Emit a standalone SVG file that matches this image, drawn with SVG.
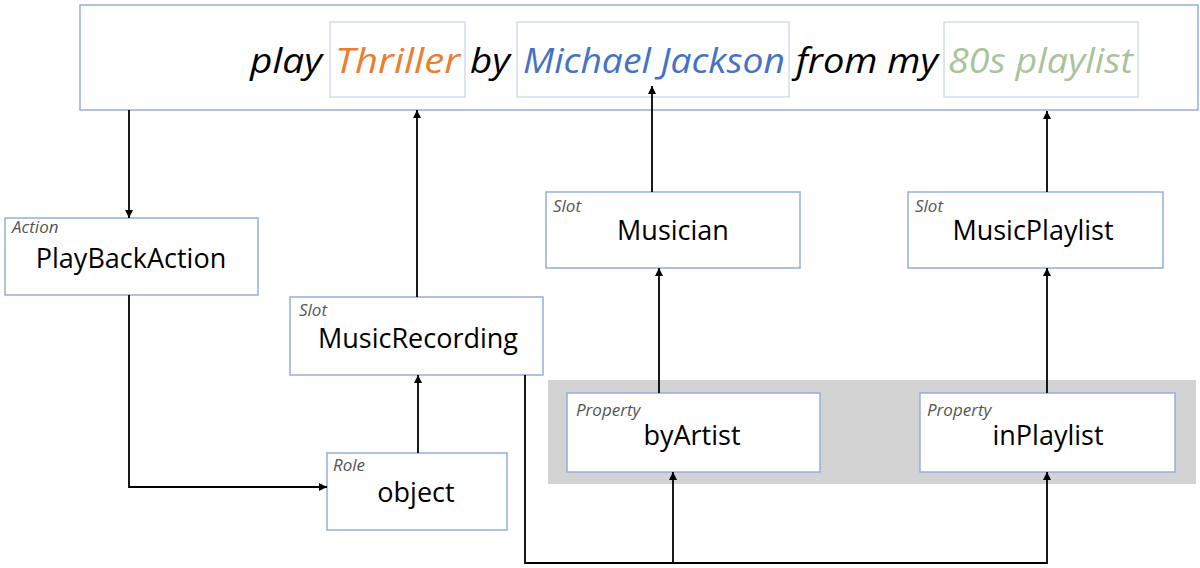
<svg xmlns="http://www.w3.org/2000/svg" width="1200" height="568" viewBox="0 0 1200 568">
<style>
.box{fill:#fff;stroke:#95aedc;stroke-width:1.5}
.inner{fill:none;stroke:#c5d3ee;stroke-width:1.2}
.lbl{font-family:"Open Sans","DejaVu Sans",sans-serif;font-style:italic;font-size:17px;fill:#555}
.main{font-family:"Open Sans","DejaVu Sans",sans-serif;font-size:27px;fill:#000;text-anchor:middle}
.utt{font-family:"Open Sans","DejaVu Sans",sans-serif;font-style:italic;font-size:35px}
.ln{fill:none;stroke:#000;stroke-width:1.8}
</style>
<defs>
<marker id="ah" viewBox="0 0 10 10" refX="10" refY="5" markerWidth="8" markerHeight="8" markerUnits="userSpaceOnUse" orient="auto">
<path d="M0,0 L10,5 L0,10 z" fill="#000"/>
</marker>
</defs>
<rect x="548" y="380" width="648" height="104" fill="#d3d3d3"/>
<g id="utterance">
<rect class="box" x="80" y="5" width="1118" height="105"/>
<rect class="inner" x="330" y="22" width="135" height="75"/>
<rect class="inner" x="517" y="22" width="272" height="75"/>
<rect class="inner" x="944" y="22" width="194" height="75"/>
<text class="utt" x="250" y="73" fill="#000" textLength="72" lengthAdjust="spacingAndGlyphs">play</text>
<text class="utt" x="335" y="73" fill="#ed7d31" textLength="125" lengthAdjust="spacingAndGlyphs">Thriller</text>
<text class="utt" x="470" y="73" fill="#000" textLength="40" lengthAdjust="spacingAndGlyphs">by</text>
<text class="utt" x="523" y="73" fill="#4472c4" textLength="262" lengthAdjust="spacingAndGlyphs">Michael Jackson</text>
<text class="utt" x="796" y="73" fill="#000" textLength="142" lengthAdjust="spacingAndGlyphs">from my</text>
<text class="utt" x="948" y="73" fill="#a9c49b" textLength="185" lengthAdjust="spacingAndGlyphs">80s playlist</text>
</g>
<g id="playbackaction">
<rect class="box" x="5" y="218" width="253" height="77"/>
<text class="lbl" x="12" y="233">Action</text>
<text class="main" x="131" y="268">PlayBackAction</text>
</g>
<g id="musicrecording">
<rect class="box" x="290" y="297" width="253" height="78"/>
<text class="lbl" x="299" y="316">Slot</text>
<text class="main" x="418" y="348">MusicRecording</text>
</g>
<g id="object">
<rect class="box" x="327" y="453" width="180" height="77"/>
<text class="lbl" x="333" y="471">Role</text>
<text class="main" x="416" y="502">object</text>
</g>
<g id="musician">
<rect class="box" x="546" y="192" width="254" height="76"/>
<text class="lbl" x="553" y="212">Slot</text>
<text class="main" x="673" y="240">Musician</text>
</g>
<g id="musicplaylist">
<rect class="box" x="908" y="192" width="255" height="76"/>
<text class="lbl" x="915" y="212">Slot</text>
<text class="main" x="1033" y="240">MusicPlaylist</text>
</g>
<g id="byartist">
<rect class="box" x="567" y="393" width="253" height="79"/>
<text class="lbl" x="576" y="416">Property</text>
<text class="main" x="692" y="445">byArtist</text>
</g>
<g id="inplaylist">
<rect class="box" x="920" y="393" width="255" height="79"/>
<text class="lbl" x="927" y="416">Property</text>
<text class="main" x="1048" y="445">inPlaylist</text>
</g>
<g id="connectors">
<path class="ln" d="M129,110 V218" marker-end="url(#ah)"/>
<path class="ln" d="M417,297 V110" marker-end="url(#ah)"/>
<path class="ln" d="M129,295 V487 H327" marker-end="url(#ah)"/>
<path class="ln" d="M418,453 V375" marker-end="url(#ah)"/>
<path class="ln" d="M659,393 V268" marker-end="url(#ah)"/>
<path class="ln" d="M652,192 V86" marker-end="url(#ah)"/>
<path class="ln" d="M1047,393 V268" marker-end="url(#ah)"/>
<path class="ln" d="M1047,192 V111" marker-end="url(#ah)"/>
<path class="ln" d="M525,375 V563 H1047 V472" marker-end="url(#ah)"/>
<path class="ln" d="M673,563 V472" marker-end="url(#ah)"/>
</g>
</svg>
